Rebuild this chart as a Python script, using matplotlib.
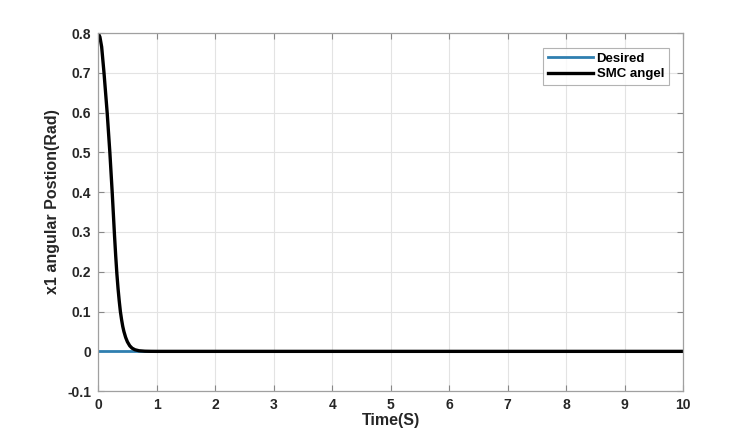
import numpy as np
import matplotlib
matplotlib.use("Agg")
import matplotlib.pyplot as plt

# values
t_smc = [0, 0.03, 0.06, 0.10, 0.154, 0.20, 0.24, 0.26, 0.28, 0.30, 0.32, 0.34,
         0.36, 0.38, 0.40, 0.42, 0.44, 0.47, 0.50, 0.54, 0.58, 0.63, 0.70,
         0.80, 0.90, 1.0, 10]
x1_smc = [0.8, 0.79, 0.765, 0.70, 0.60, 0.50, 0.40, 0.345, 0.29, 0.24, 0.195, 0.158,
          0.127, 0.10, 0.08, 0.063, 0.05, 0.035, 0.024, 0.014, 0.008, 0.004, 0.0015,
          0.0004, 0.0001, 0, 0]
t_des = [0, 10]
x1_des = [0, 0]

xticks = list(range(0, 11))
yticks = [-0.1, 0, 0.1, 0.2, 0.3, 0.4, 0.5, 0.6, 0.7, 0.8]
ytick_labels = ['-0.1', '0', '0.1', '0.2', '0.3', '0.4', '0.5', '0.6', '0.7', '0.8']

plt.rcParams['font.family'] = ['Liberation Sans', 'DejaVu Sans']
plt.rcParams['font.weight'] = 'bold'

fig = plt.figure(figsize=(7.55, 4.4), dpi=100)
ax = fig.add_axes([0.130, 0.111, 0.775, 0.814])

ax.plot(t_des, x1_des, color='#2f7fb0', lw=2.0, label='Desired')
ax.plot(t_smc, x1_smc, color='black', lw=2.4, label='SMC angel')

ax.set_xlim(0, 10)
ax.set_ylim(-0.1, 0.8)
ax.set_xticks(xticks)
ax.set_yticks(yticks)
ax.set_yticklabels(ytick_labels)
ax.grid(True, color='#e3e3e3', lw=0.8)
ax.set_axisbelow(True)
ax.tick_params(direction='in', top=True, right=True, length=4, color='#888888',
               labelsize=10, labelcolor='#262626', pad=5)
for s in ax.spines.values():
    s.set_color('#a0a0a0')
    s.set_linewidth(0.9)

ax.set_xlabel('Time(S)', fontsize=11.5, fontweight='bold', color='#262626', labelpad=1)
ax.set_ylabel('x1 angular Postion(Rad)', fontsize=11.5, fontweight='bold', color='#262626')
ax.yaxis.set_label_coords(-0.066, 0.528)

leg = ax.legend(loc='upper right', bbox_to_anchor=(0.975, 0.958), fontsize=9.5, frameon=True,
                fancybox=False, edgecolor='#a0a0a0', handlelength=3.4, borderpad=0.35,
                labelspacing=0.25, handletextpad=0.3, borderaxespad=0)
leg.get_frame().set_linewidth(0.8)
for txt in leg.get_texts():
    txt.set_fontweight('bold')

fig.savefig('out.png', dpi=100)
